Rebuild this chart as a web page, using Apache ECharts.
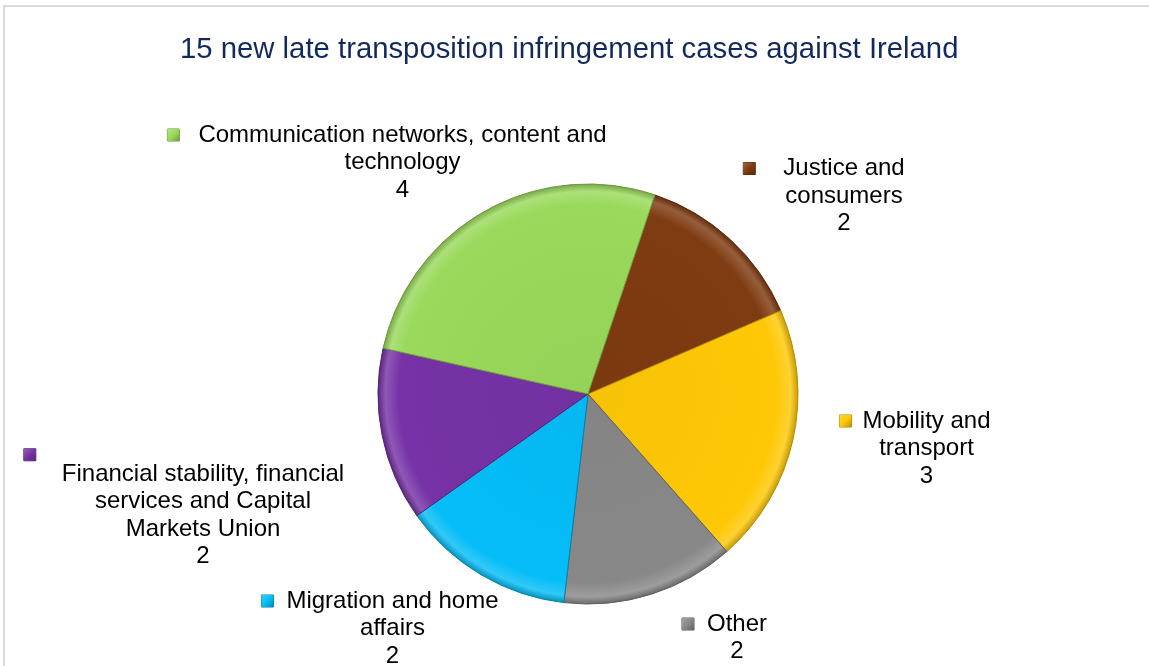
<!DOCTYPE html>
<html><head><meta charset="utf-8">
<script src="https://cdn.jsdelivr.net/npm/echarts@6/dist/echarts.min.js"></script>
<style>
html,body{margin:0;padding:0;background:#fff;}
#c{position:absolute;left:0;top:0;width:1149px;height:666px;}
#f{position:absolute;left:3px;top:5px;width:1200px;height:720px;border:2px solid #d9d9d9;pointer-events:none;box-sizing:border-box;}
</style>
</head><body><div id="c"></div><div id="f"></div>
<script>
// ---- data ----
const chartTitle = '15 new late transposition infringement cases against Ireland';
const categories = [
  'Justice and\nconsumers',
  'Mobility and\ntransport',
  'Other',
  'Migration and home\naffairs',
  'Financial stability, financial\nservices and Capital\nMarkets Union',
  'Communication networks, content and\ntechnology'
];
const values = [2, 3, 2, 2, 2, 4];
const colors = ['#7F3B11', '#FFC806', '#888888', '#05BDF7', '#7632A6', '#9AD95B'];

// ---- layout (label anchors / styling) ----
const labelCx = [844, 926.5, 737, 392.5, 203, 402.5];
const labelCy = [168.5, 421, 624, 601, 474, 135];
const markerGap = [28, 11, 13, 13, 26, 19];
const markerRaised = [false, false, false, false, true, false];
const MS = 12, LH = 27.5, FS = 24, FONT = '"Liberation Sans", Arial, sans-serif';
const CX = 588, CY = 394, R = 210;
const TITLE_CX = 569, TITLE_FS = 29.3;

function shade(hex, amt) {
  const n = parseInt(hex.slice(1), 16);
  let r = (n >> 16) & 255, g = (n >> 8) & 255, b = n & 255;
  const f = c => amt >= 0 ? Math.round(c + (255 - c) * amt) : Math.round(c * (1 + amt));
  return 'rgb(' + f(r) + ',' + f(g) + ',' + f(b) + ')';
}
const ctx = document.createElement('canvas').getContext('2d');
ctx.font = FS + 'px ' + FONT;
const measure = s => ctx.measureText(s).width;
const tctx = document.createElement('canvas').getContext('2d');
tctx.font = TITLE_FS + 'px ' + FONT;
const titleW = tctx.measureText(chartTitle).width;

const rich = {};
categories.forEach((name, i) => {
  const c = colors[i];
  const mk = {
    width: MS, height: MS,
    backgroundColor: {type: 'linear', x: 0, y: 0, x2: 1, y2: 1, colorStops: [
      {offset: 0, color: shade(c, 0.25)}, {offset: 0.5, color: c}, {offset: 1, color: shade(c, -0.3)}]},
    borderColor: shade(c, -0.35), borderWidth: 0.5
  };
  const first = name.split('\n')[0];
  if (markerRaised[i]) {
    mk.lineHeight = 11;
    rich['m' + i] = mk;
    rich['r' + i] = {width: measure(first) + 2 * markerGap[i] + MS, lineHeight: 11};
  } else {
    rich['m' + i] = mk;
    rich['g' + i] = {width: markerGap[i]};
    rich['s' + i] = {width: markerGap[i] + MS};
  }
});

const data = categories.map((name, i) => {
  const c = colors[i];
  return {
    name: name, value: values[i],
    itemStyle: {
      color: {type: 'radial', x: CX, y: CY, r: R, global: true, colorStops: [
        {offset: 0, color: shade(c, -0.03)},
        {offset: 0.9, color: c},
        {offset: 0.965, color: shade(c, 0.18)},
        {offset: 1, color: shade(c, -0.22)}]},
      borderColor: shade(c, -0.3), borderWidth: 1
    }
  };
});

const chart = echarts.init(document.getElementById('c'));
chart.setOption({
  animation: false,
  backgroundColor: '#fff',
  title: {
    text: chartTitle, left: Math.round(TITLE_CX - titleW / 2), top: 35, padding: 0,
    textStyle: {fontFamily: FONT, fontWeight: 'normal', fontSize: TITLE_FS, color: '#12295F'}
  },
  series: [{
    type: 'pie',
    center: [CX, CY], radius: R,
    startAngle: 71.4, clockwise: true,
    avoidLabelOverlap: false,
    emphasis: {disabled: true},
    data: data,
    labelLine: {show: false},
    label: {
      show: true, position: 'outside',
      fontFamily: FONT, fontSize: FS, lineHeight: LH, color: '#000',
      rich: rich,
      formatter: p => {
        const i = p.dataIndex;
        const lines = p.name.split('\n');
        let s;
        if (markerRaised[i]) {
          s = '{m' + i + '|}{r' + i + '|}\n' + lines.join('\n');
        } else {
          lines[0] = '{m' + i + '|}{g' + i + '|}' + lines[0] + '{s' + i + '|}';
          s = lines.join('\n');
        }
        return s + '\n' + p.value;
      }
    },
    labelLayout: p => {
      const i = p.dataIndex;
      const top = labelCy[i] - LH / 2 - (markerRaised[i] ? 11 : 0);
      return {x: labelCx[i], y: top, align: 'center', verticalAlign: 'top', hideOverlap: false, moveOverlap: null};
    }
  }]
});
</script>
</body></html>
